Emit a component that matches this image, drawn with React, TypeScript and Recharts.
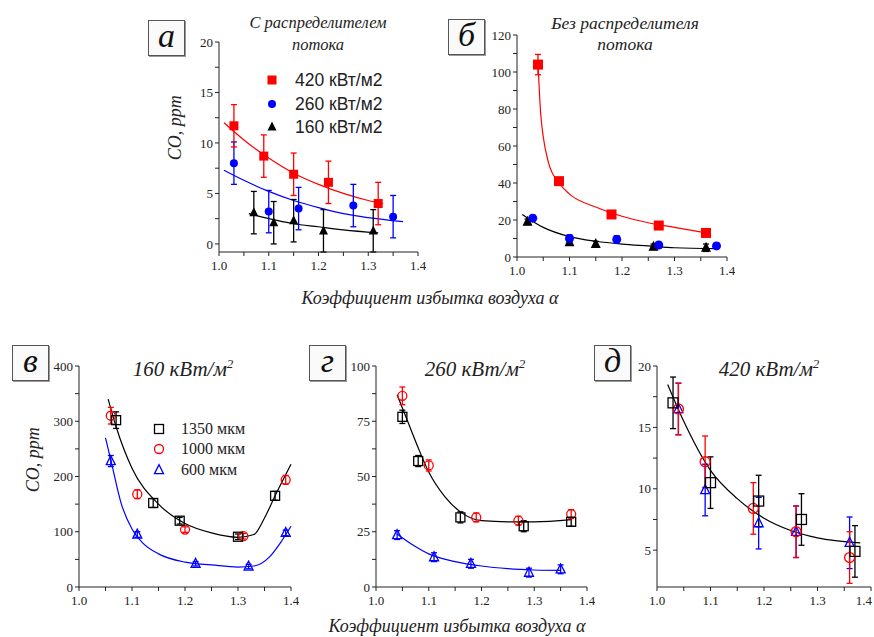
import React from 'react'
import { ComposedChart, Line, Scatter, XAxis, YAxis, ErrorBar } from 'recharts'

// [x, y, err]
const a420 = [[1.03, 11.7, 2.1], [1.09, 8.7, 2.1], [1.15, 6.9, 2.1], [1.22, 6.1, 2.1], [1.32, 4.0, 2.1]]
const a260 = [[1.03, 8.0, 2.1], [1.1, 3.2, 2.1], [1.16, 3.5, 2.1], [1.27, 3.8, 2.1], [1.35, 2.7, 2.1]]
const a160 = [[1.07, 3.1, 2.1], [1.11, 2.1, 2.1], [1.15, 2.3, 2.1], [1.21, 1.3, 2.1], [1.31, 1.3, 2.1]]
const a420Fit = [[1.01, 12.0], [1.05, 10.3], [1.1, 8.5], [1.15, 7.0], [1.2, 5.9], [1.25, 5.0], [1.3, 4.3], [1.33, 4.0]]
const a260Fit = [[1.01, 7.3], [1.05, 6.3], [1.1, 5.2], [1.15, 4.3], [1.2, 3.6], [1.25, 3.0], [1.3, 2.6], [1.37, 2.2]]
const a160Fit = [[1.06, 3.0], [1.1, 2.5], [1.15, 2.0], [1.2, 1.7], [1.25, 1.4], [1.32, 1.1]]

const b420 = [[1.04, 104, 5.5], [1.08, 41, 1.5], [1.18, 23, 1.5], [1.27, 17, 1.5], [1.36, 13, 1.5]]
const b260 = [[1.03, 21, 1.5], [1.1, 10, 2], [1.19, 9.5, 2], [1.27, 6.5, 1.5], [1.38, 6, 1.5]]
const b160 = [[1.02, 19, 1.5], [1.1, 8, 1.5], [1.15, 7, 1.5], [1.26, 5.5, 1.5], [1.36, 5, 2]]
const b420Fit = [[1.04, 105], [1.045, 78], [1.05, 65], [1.06, 51], [1.08, 40], [1.1, 34], [1.15, 27], [1.2, 22], [1.25, 18.5], [1.3, 16], [1.36, 13]]
const b160Fit = [[1.01, 23], [1.05, 16], [1.1, 11], [1.15, 8.5], [1.2, 7], [1.25, 6], [1.3, 5], [1.38, 4.5]]

const v1350 = [[1.07, 302, 15], [1.14, 152, 8], [1.19, 120, 6], [1.3, 91, 5], [1.37, 165, 8]]
const v1000 = [[1.06, 310, 15], [1.11, 168, 8], [1.2, 104, 5], [1.31, 92, 5], [1.39, 194, 8]]
const v600 = [[1.06, 228, 10], [1.11, 95, 5], [1.22, 42, 4], [1.32, 37, 4], [1.39, 98, 5]]
const v1350Fit = [[1.055, 340], [1.07, 290], [1.1, 215], [1.15, 150], [1.2, 115], [1.25, 98], [1.3, 90], [1.33, 95], [1.35, 125], [1.37, 165], [1.4, 222]]
const v600Fit = [[1.05, 270], [1.06, 230], [1.08, 150], [1.1, 105], [1.12, 80], [1.15, 60], [1.2, 45], [1.25, 40], [1.3, 36], [1.33, 38], [1.36, 55], [1.38, 80], [1.4, 110]]

const g1350 = [[1.05, 77, 3], [1.08, 57, 2.5], [1.16, 31.5, 2.5], [1.28, 27.5, 2.5], [1.37, 29.5, 2]]
const g1000 = [[1.05, 86.5, 4], [1.1, 55, 2.5], [1.19, 31.5, 2], [1.27, 30, 2], [1.37, 33, 2]]
const g600 = [[1.04, 23.5, 2], [1.11, 13.5, 2], [1.18, 10.5, 2], [1.29, 6.5, 2], [1.35, 8, 2]]
const g1350Fit = [[1.04, 87], [1.06, 75], [1.08, 63], [1.1, 52], [1.13, 41], [1.16, 34], [1.2, 30], [1.25, 29.5], [1.3, 29.5], [1.37, 30.5]]
const g600Fit = [[1.04, 24], [1.07, 19], [1.1, 15], [1.15, 11.5], [1.2, 9.5], [1.25, 8.3], [1.3, 7.7], [1.35, 7.5]]

const d1350 = [[1.03, 17.0, 2.1], [1.1, 10.5, 2.1], [1.19, 9.0, 2.1], [1.27, 7.5, 2.1], [1.37, 4.9, 2.1]]
const d1000 = [[1.04, 16.5, 2.1], [1.09, 12.2, 2.1], [1.18, 8.4, 2.1], [1.26, 6.5, 2.1], [1.36, 4.4, 2.1]]
const d600 = [[1.04, 16.5, 2.1], [1.09, 9.9, 2.1], [1.19, 7.2, 2.1], [1.26, 6.5, 2.1], [1.36, 5.6, 2.1]]
const d1350Fit = [[1.02, 18.5], [1.05, 15.5], [1.1, 11.5], [1.15, 9.2], [1.2, 7.6], [1.25, 6.6], [1.3, 6.0], [1.38, 5.6]]

const xTicks = [1.0, 1.05, 1.1, 1.15, 1.2, 1.25, 1.3, 1.35, 1.4]

const RED = '#ff0000'
const BLUE = '#0000ff'
const BLACK = '#000000'
const SERIF = '"Liberation Serif", "DejaVu Serif", serif'

const pts = (arr: number[][]) => arr.map(([x, y, e]) => ({ x, y, e }))

function marker(kind: string, color: string, hollow: boolean, s: number) {
  return (p: any) => {
    const { cx, cy } = p
    const fill = hollow ? 'none' : color
    const sw = hollow ? 1.3 : 0
    if (kind === 'square')
      return <rect x={cx - s / 2} y={cy - s / 2} width={s} height={s} fill={fill} stroke={color} strokeWidth={sw} />
    if (kind === 'triangle')
      return (
        <polygon
          points={`${cx},${cy - s * 0.6} ${cx - s / 2},${cy + s * 0.4} ${cx + s / 2},${cy + s * 0.4}`}
          fill={fill}
          stroke={color}
          strokeWidth={sw}
        />
      )
    return <circle cx={cx} cy={cy} r={s / 2} fill={fill} stroke={color} strokeWidth={sw} />
  }
}

type Ser = { data: number[][]; color: string; kind: string; hollow?: boolean; size?: number; cap?: number }

const ML = 40
const MT = 6
const MR = 8
const XH = 26

const isMajorX = (v: number) => Math.abs(v * 10 - Math.round(v * 10)) < 1e-6

function Panel({
  x0, x1, top, bottom, yDomain, yTicks, yMajor, series, fits, lastEnd,
}: {
  x0: number; x1: number; top: number; bottom: number
  yDomain: number[]; yTicks: number[]; yMajor: number[]
  series: Ser[]; fits: { data: number[][]; color: string }[]; lastEnd?: boolean
}) {
  const w = x1 - x0 + ML + MR
  const h = bottom - top + MT + XH
  const tick = { fontFamily: SERIF, fontSize: 13, fill: '#222' }
  const xTick = (p: any) => {
    const v = p.payload.value
    if (!isMajorX(v)) return <g />
    const end = lastEnd && v > 1.39
    return (
      <text x={end ? p.x + 1 : p.x} y={p.y + 12} textAnchor={end ? 'end' : 'middle'} fontFamily={SERIF} fontSize={13} fill="#222">
        {v.toFixed(1)}
      </text>
    )
  }
  return (
    <div style={{ position: 'absolute', left: x0 - ML, top: top - MT }}>
      <ComposedChart width={w} height={h} margin={{ top: MT, right: MR, bottom: 0, left: 0 }}>
        <XAxis
          type="number"
          dataKey="x"
          domain={[1.0, 1.4]}
          ticks={xTicks}
          interval={0}
          height={XH}
          tick={xTick}
          tickSize={4}
          stroke="#222"
        />
        <YAxis
          type="number"
          domain={yDomain}
          ticks={yTicks}
          interval={0}
          width={ML}
          tick={tick}
          tickSize={4}
          stroke="#222"
          tickFormatter={(v: number) => (yMajor.includes(v) ? String(v) : '')}
        />
        {fits.map((f, i) => (
          <Line
            key={'f' + i}
            data={f.data.map(([x, y]) => ({ x, y }))}
            dataKey="y"
            type="monotone"
            stroke={f.color}
            strokeWidth={1.2}
            dot={false}
            activeDot={false}
            isAnimationActive={false}
          />
        ))}
        {series.map((s, i) => (
          <Scatter
            key={'s' + i}
            data={pts(s.data)}
            dataKey="y"
            shape={marker(s.kind, s.color, !!s.hollow, s.size ?? 9)}
            isAnimationActive={false}
          >
            <ErrorBar dataKey="e" direction="y" width={s.cap ?? 3} stroke={s.color} strokeWidth={1.3} />
          </Scatter>
        ))}
      </ComposedChart>
    </div>
  )
}

const boxStyle = (left: number, top: number): React.CSSProperties => ({
  position: 'absolute',
  left,
  top,
  width: 35,
  height: 34,
  border: '1.5px solid #555',
  boxShadow: '1px 1px 0 #999',
  background: '#fafafa',
  fontFamily: SERIF,
  fontStyle: 'italic',
  fontSize: 34,
  lineHeight: '30px',
  textAlign: 'center',
  color: '#111',
})

const textAt = (cx: number, cy: number, size: number, extra: React.CSSProperties = {}): React.CSSProperties => ({
  position: 'absolute',
  left: cx - 200,
  top: cy - size * 0.6,
  width: 400,
  textAlign: 'center',
  fontFamily: SERIF,
  fontStyle: 'italic',
  fontSize: size,
  lineHeight: `${size * 1.2}px`,
  color: '#222',
  whiteSpace: 'nowrap',
  ...extra,
})

const vLabel = (cx: number, cy: number): React.CSSProperties => ({
  ...textAt(cx, cy, 18),
  transform: 'rotate(-90deg)',
})

function LegendRow({ x, y, kind, color, hollow, label, font, size }: any) {
  return (
    <div style={{ position: 'absolute', left: x - 8, top: y - 11, height: 22, display: 'flex', alignItems: 'center' }}>
      <svg width={16} height={20}>{marker(kind, color, hollow, size)({ cx: 8, cy: 10 })}</svg>
      <span style={{ marginLeft: font.gap, fontFamily: font.family, fontSize: font.size, color: '#222' }}>{label}</span>
    </div>
  )
}

export default function App() {
  const aFont = { family: '"Liberation Sans", Arial, sans-serif', size: 17.5, gap: 15 }
  const vFont = { family: SERIF, size: 16, gap: 14 }
  return (
    <div style={{ position: 'absolute', left: 0, top: 0, width: 874, height: 637, background: '#fff', overflow: 'hidden' }}>
      <Panel
        x0={219} x1={418} top={42} bottom={252}
        yDomain={[0, 20]} yTicks={[0, 2.5, 5, 7.5, 10, 12.5, 15, 17.5, 20]} yMajor={[0, 5, 10, 15, 20]}
        fits={[{ data: a420Fit, color: RED }, { data: a260Fit, color: BLUE }, { data: a160Fit, color: BLACK }]}
        series={[
          { data: a160, color: BLACK, kind: 'triangle', size: 9 },
          { data: a260, color: BLUE, kind: 'circle', size: 8 },
          { data: a420, color: RED, kind: 'square', size: 9 },
        ]}
      />
      <Panel
        x0={517} x1={727} top={35} bottom={257}
        yDomain={[0, 120]} yTicks={[0, 10, 20, 30, 40, 50, 60, 70, 80, 90, 100, 110, 120]} yMajor={[0, 20, 40, 60, 80, 100, 120]}
        fits={[{ data: b420Fit, color: RED }, { data: b160Fit, color: BLACK }]}
        series={[
          { data: b160, color: BLACK, kind: 'triangle', size: 10 },
          { data: b260, color: BLUE, kind: 'circle', size: 9 },
          { data: b420, color: RED, kind: 'square', size: 10 },
        ]}
      />
      <Panel
        x0={79} x1={291} top={366} bottom={587}
        yDomain={[0, 400]} yTicks={[0, 50, 100, 150, 200, 250, 300, 350, 400]} yMajor={[0, 100, 200, 300, 400]}
        fits={[{ data: v1350Fit, color: BLACK }, { data: v600Fit, color: BLUE }]}
        series={[
          { data: v600, color: BLUE, kind: 'triangle', hollow: true, size: 9 },
          { data: v1000, color: RED, kind: 'circle', hollow: true, size: 9 },
          { data: v1350, color: BLACK, kind: 'square', hollow: true, size: 9 },
        ]}
      />
      <Panel
        x0={376} x1={587} top={366} bottom={587}
        yDomain={[0, 100]} yTicks={[0, 12.5, 25, 37.5, 50, 62.5, 75, 87.5, 100]} yMajor={[0, 25, 50, 75, 100]}
        fits={[{ data: g1350Fit, color: BLACK }, { data: g600Fit, color: BLUE }]}
        series={[
          { data: g600, color: BLUE, kind: 'triangle', hollow: true, size: 9 },
          { data: g1000, color: RED, kind: 'circle', hollow: true, size: 9 },
          { data: g1350, color: BLACK, kind: 'square', hollow: true, size: 9 },
        ]}
      />
      <Panel
        x0={657} x1={871} top={366} bottom={587} lastEnd
        yDomain={[2, 20]} yTicks={[5, 7.5, 10, 12.5, 15, 17.5, 20]} yMajor={[5, 10, 15, 20]}
        fits={[{ data: d1350Fit, color: BLACK }]}
        series={[
          { data: d600, color: BLUE, kind: 'triangle', hollow: true, size: 9 },
          { data: d1000, color: RED, kind: 'circle', hollow: true, size: 10 },
          { data: d1350, color: BLACK, kind: 'square', hollow: true, size: 10 },
        ]}
      />

      <div style={boxStyle(148, 20)}>а</div>
      <div style={boxStyle(448, 19)}>б</div>
      <div style={boxStyle(12, 345)}>в</div>
      <div style={boxStyle(309, 345)}>г</div>
      <div style={boxStyle(594, 345)}>д</div>

      <div style={textAt(318, 23, 16.5)}>С распределителем</div>
      <div style={textAt(318, 45, 16.5)}>потока</div>
      <div style={textAt(625, 23, 17.5)}>Без распределителя</div>
      <div style={textAt(625, 44, 17.5)}>потока</div>

      <div style={textAt(183, 364, 21)}>160 кВт/м<sup style={{ fontSize: 13 }}>2</sup></div>
      <div style={textAt(475, 364, 21)}>260 кВт/м<sup style={{ fontSize: 13 }}>2</sup></div>
      <div style={textAt(769, 364, 21)}>420 кВт/м<sup style={{ fontSize: 13 }}>2</sup></div>

      <div style={vLabel(176, 128)}>CO, ppm</div>
      <div style={vLabel(34, 460)}>CO, ppm</div>
      <div style={textAt(430, 299, 18)}>Коэффициент избытка воздуха α</div>
      <div style={textAt(457, 627, 18)}>Коэффициент избытка воздуха α</div>

      <LegendRow x={272} y={80} kind="square" color={RED} label="420 кВт/м2" font={aFont} size={9} />
      <LegendRow x={272} y={104} kind="circle" color={BLUE} label="260 кВт/м2" font={aFont} size={8} />
      <LegendRow x={272} y={127} kind="triangle" color={BLACK} label="160 кВт/м2" font={aFont} size={9} />

      <LegendRow x={159} y={429} kind="square" color={BLACK} hollow label="1350 мкм" font={vFont} size={9} />
      <LegendRow x={159} y={449} kind="circle" color={RED} hollow label="1000 мкм" font={vFont} size={9} />
      <LegendRow x={159} y={470} kind="triangle" color={BLUE} hollow label="600 мкм" font={vFont} size={9} />
    </div>
  )
}
